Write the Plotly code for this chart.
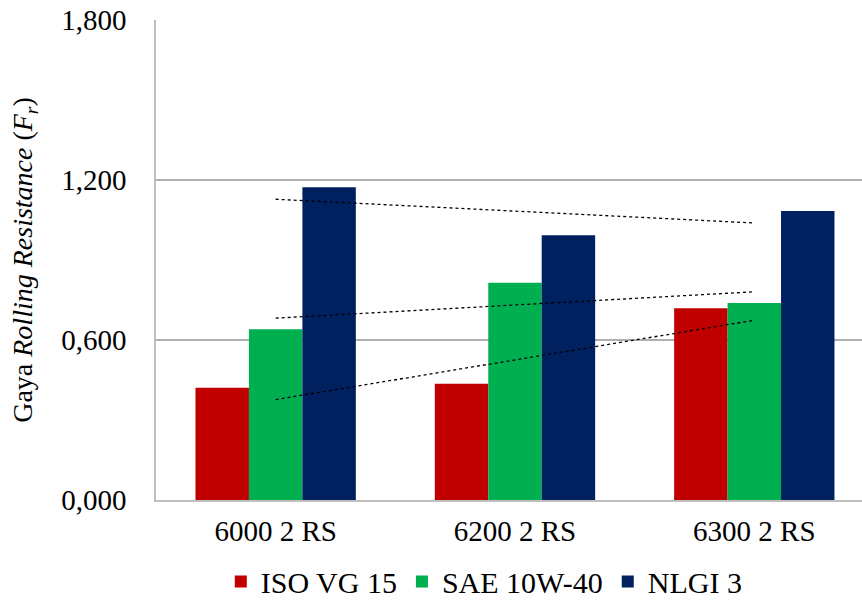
import plotly.graph_objects as go
import numpy as np

categories = ["6000 2 RS", "6200 2 RS", "6300 2 RS"]
series_names = ["ISO VG 15", "SAE 10W-40", "NLGI 3"]
iso_vg15 = [0.421, 0.436, 0.719]
sae_10w40 = [0.640, 0.815, 0.739]
nlgi3 = [1.173, 0.993, 1.084]
colors = ["#C00000", "#00B050", "#002060"]
y_ticks = [0.0, 0.6, 1.2, 1.8]
y_ticktext = ["0,000", "0,600", "1,200", "1,800"]

font_family = "Liberation Serif"
fig = go.Figure()
all_series = [iso_vg15, sae_10w40, nlgi3]
for name, vals, col in zip(series_names, all_series, colors):
    fig.add_trace(go.Bar(x=categories, y=vals, name=name, marker=dict(color=col, line=dict(width=0))))

xi = np.arange(len(categories))
for vals in all_series:
    m, b = np.polyfit(xi, vals, 1)
    fig.add_trace(go.Scatter(x=categories, y=list(m * xi + b), mode="lines",
                             line=dict(color="black", width=1.3, dash="dot"),
                             showlegend=False, hoverinfo="skip"))

fig.update_layout(
    width=862, height=612,
    margin=dict(l=156, r=0, t=20, b=112),
    plot_bgcolor="white", paper_bgcolor="white",
    barmode="group", bargap=0.33, bargroupgap=0,
    font=dict(family=font_family, size=29, color="black"),
    xaxis=dict(range=[-0.5, 2.45], showgrid=False, showline=True, linecolor="#bfbfbf", linewidth=1.5,
               ticks="", tickfont=dict(family=font_family, size=29), ticklabelstandoff=4),
    yaxis=dict(range=[0, 1.8], tickvals=y_ticks, ticktext=y_ticktext, showgrid=True,
               gridcolor="#b0b0b0", gridwidth=1.5, showline=True, linecolor="#bfbfbf", linewidth=1.5,
               zeroline=False, ticks="", ticklabelstandoff=22, tickfont=dict(family=font_family, size=29),
               title=dict(text="Gaya <i>Rolling Resistance</i> (<i>F</i><sub><i>r</i></sub>)",
                          font=dict(family=font_family, size=28), standoff=20)),
    legend=dict(orientation="h", x=0.465, xanchor="center", y=-0.17, yanchor="middle",
                font=dict(family=font_family, size=30), itemwidth=30, traceorder="normal"),
)
fig.write_html("out.html")
